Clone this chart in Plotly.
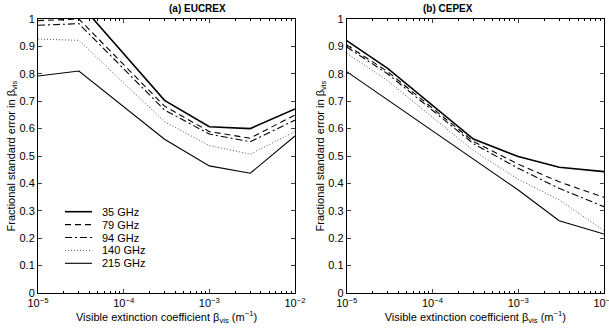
import plotly.graph_objects as go

# Data
beta_vis = [1e-5, 3e-5, 3e-4, 1e-3, 3e-3, 1e-2]
freqs = ["35 GHz", "79 GHz", "94 GHz", "140 GHz", "215 GHz"]

eucrex_35 = [1.03, 1.06, 0.703, 0.607, 0.600, 0.672]
eucrex_79 = [0.994, 1.0, 0.682, 0.589, 0.565, 0.650]
eucrex_94 = [0.977, 0.983, 0.668, 0.580, 0.552, 0.631]
eucrex_140 = [0.927, 0.922, 0.625, 0.538, 0.507, 0.589]
eucrex_215 = [0.792, 0.810, 0.561, 0.464, 0.437, 0.573]

cepex_35 = [0.921, 0.820, 0.562, 0.498, 0.459, 0.443]
cepex_79 = [0.905, 0.808, 0.553, 0.470, 0.406, 0.349]
cepex_94 = [0.898, 0.800, 0.545, 0.455, 0.382, 0.315]
cepex_140 = [0.875, 0.775, 0.520, 0.415, 0.340, 0.228]
cepex_215 = [0.808, 0.705, 0.487, 0.376, 0.264, 0.215]

x_tickvals = [1e-5, 1e-4, 1e-3, 1e-2]
x_ticktext = ["10<sup>\u22125</sup>", "10<sup>\u22124</sup>", "10<sup>\u22123</sup>", "10<sup>\u22122</sup>"]
x_minorvals = [m * d for d in (1e-5, 1e-4, 1e-3) for m in range(2, 10)]
y_tickvals = [0, 0.1, 0.2, 0.3, 0.4, 0.5, 0.6, 0.7, 0.8, 0.9, 1]
y_ticktext = ["0", "0.1", "0.2", "0.3", "0.4", "0.5", "0.6", "0.7", "0.8", "0.9", "1"]

styles = [
    dict(dash="solid", width=1.6),
    dict(dash="6px,4px", width=1.1),
    dict(dash="7px,3px,2px,3px", width=1.1),
    dict(dash="1px,2px", width=1.0),
    dict(dash="solid", width=1.1),
]
colors = ["black", "black", "black", "#555555", "black"]

FONT = "Liberation Sans, Arial, sans-serif"
W, H = 609, 331
fig = go.Figure()

eucrex = [eucrex_35, eucrex_79, eucrex_94, eucrex_140, eucrex_215]
cepex = [cepex_35, cepex_79, cepex_94, cepex_140, cepex_215]

for i, (name, ys) in enumerate(zip(freqs, eucrex)):
    fig.add_trace(go.Scatter(x=beta_vis, y=ys, mode="lines", name=name,
                             line=dict(color=colors[i], **styles[i]),
                             xaxis="x", yaxis="y", showlegend=False))
for i, (name, ys) in enumerate(zip(freqs, cepex)):
    fig.add_trace(go.Scatter(x=beta_vis, y=ys, mode="lines", name=name,
                             line=dict(color=colors[i], **styles[i]),
                             xaxis="x2", yaxis="y2", showlegend=False))

ydom = [(H - 293) / H, (H - 19) / H]

xcommon = dict(type="log", range=[-5, -2], tickvals=x_tickvals, ticktext=x_ticktext,
               ticks="inside", ticklen=4, mirror="ticks", showline=True, linecolor="black",
               linewidth=1, showgrid=False, zeroline=False, automargin=False,
               ticklabeloverflow="allow",
               tickfont=dict(size=11, color="black", family=FONT),
               minor=dict(tickmode="array", tickvals=x_minorvals, ticks="inside", ticklen=2,
                          tickcolor="black", showgrid=False),
               title=dict(text="Visible extinction coefficient \u03b2<sub>vis</sub> (m<sup>\u22121</sup>)",
                          font=dict(size=11, color="black", family=FONT), standoff=2))
ycommon = dict(range=[0, 1], tickvals=y_tickvals, ticktext=y_ticktext,
               ticks="inside", ticklen=4, mirror="ticks", showline=True, linecolor="black",
               linewidth=1, showgrid=False, zeroline=False, automargin=False,
               tickfont=dict(size=11, color="black", family=FONT),
               title=dict(text="Fractional standard error in \u03b2<sub>vis</sub>",
                          font=dict(size=11, color="black", family=FONT), standoff=0))

# Legend drawn inside the left panel (paper coordinates)
leg_x0, leg_x1, leg_tx = 65 / W, 92 / W, 100 / W
leg_y = [211.7, 224.6, 237.5, 250.4, 263.3]
shapes = []
annotations = []
for i, name in enumerate(freqs):
    yp = (H - leg_y[i]) / H
    shapes.append(dict(type="line", xref="paper", yref="paper", x0=leg_x0, x1=leg_x1, y0=yp, y1=yp,
                       line=dict(color=colors[i], **styles[i])))
    annotations.append(dict(text=name, x=leg_tx, y=yp, xref="paper", yref="paper", xanchor="left",
                            yanchor="middle", showarrow=False,
                            font=dict(size=11, color="black", family=FONT)))

annotations += [
    dict(text="<b>(a) EUCREX</b>", x=(38 + 295) / 2 / W, y=(H - 8) / H, xref="paper", yref="paper",
         yanchor="middle", showarrow=False, font=dict(size=10, color="black", family=FONT)),
    dict(text="<b>(b) CEPEX</b>", x=(346.7 + 604) / 2 / W, y=(H - 8) / H, xref="paper", yref="paper",
         yanchor="middle", showarrow=False, font=dict(size=10, color="black", family=FONT)),
]

fig.update_layout(
    width=W, height=H,
    margin=dict(l=0, r=0, t=0, b=0, autoexpand=False),
    paper_bgcolor="white", plot_bgcolor="white",
    font=dict(family=FONT, color="black"),
    showlegend=False,
    xaxis=dict(domain=[38 / W, 295 / W], anchor="y", **xcommon),
    yaxis=dict(domain=ydom, anchor="x", **ycommon),
    xaxis2=dict(domain=[346.7 / W, 604 / W], anchor="y2", **xcommon),
    yaxis2=dict(domain=ydom, anchor="x2", **ycommon),
    shapes=shapes,
    annotations=annotations,
)

fig.write_html("out.html")
